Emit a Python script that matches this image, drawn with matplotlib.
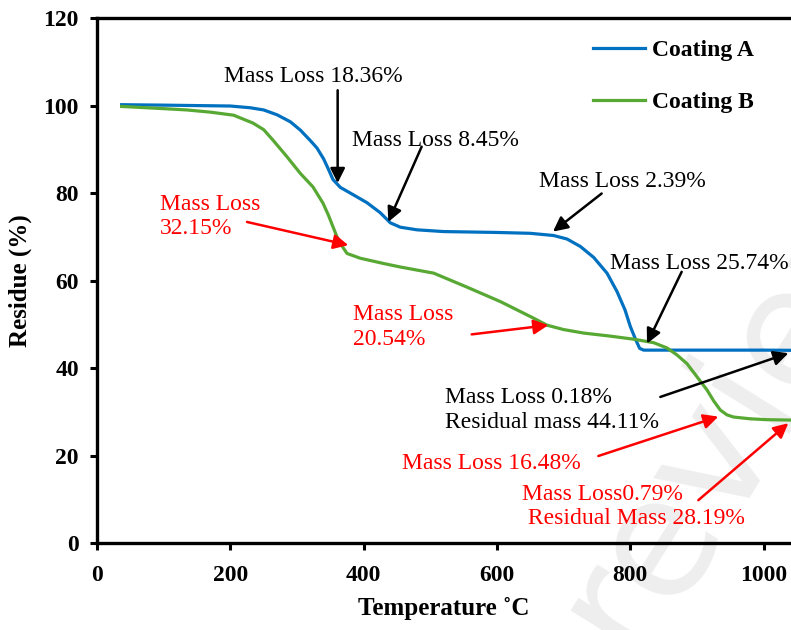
import matplotlib
matplotlib.use("Agg")
import matplotlib.pyplot as plt

plt.rcParams["font.family"] = ["Liberation Serif", "DejaVu Serif"]

# TGA curves (temperature in C, residue in %)
temp_a = [37, 100, 150, 200, 230, 250, 270, 290, 305, 320, 330, 340, 347, 354, 365,
          380, 405, 425, 440, 455, 480, 520, 600, 650, 685, 705, 725, 745, 765, 780,
          792, 800, 808, 814, 820, 900, 1000, 1045]
res_a = [100.2, 100.1, 100.0, 99.9, 99.5, 99.0, 97.9, 96.3, 94.4, 92.0, 90.3, 87.8, 85.5,
         83.1, 81.3, 80.0, 77.8, 75.5, 73.2, 72.2, 71.6, 71.2, 71.0, 70.8, 70.3, 69.5,
         67.8, 65.3, 61.7, 57.5, 53.3, 49.5, 46.5, 44.5, 44.1, 44.1, 44.1, 44.05]

temp_b = [37, 100, 135, 170, 205, 234, 250, 264, 285, 305, 324, 339, 347, 354, 360, 365,
          375, 395, 430, 455, 505, 555, 605, 655, 675, 700, 730, 770, 805, 835, 855, 870,
          885, 900, 915, 925, 935, 945, 955, 980, 1005, 1045]
res_b = [99.8, 99.3, 99.0, 98.5, 97.8, 96.0, 94.5, 92.1, 88.3, 84.5, 81.4, 77.7, 75.0,
         72.3, 70.0, 68.5, 66.2, 65.1, 63.9, 63.1, 61.7, 58.5, 55.2, 51.4, 49.8, 48.8,
         48.0, 47.3, 46.6, 45.8, 44.6, 43.0, 41.0, 38.0, 35.0, 32.5, 30.4, 29.3, 28.8,
         28.4, 28.2, 28.1]

x_ticks = [0, 200, 400, 600, 800, 1000]
y_ticks = [0, 20, 40, 60, 80, 100, 120]

# (label, text position, arrow tail, arrow tip, colour, horizontal alignment)
notes = [
    ("Mass Loss 18.36%", (324, 106.7), (361, 103.5), (361, 82.3), "black", "center"),
    ("Mass Loss 8.45%", (508, 92.1), (487, 90.6), (437, 73.4), "black", "center"),
    ("Mass Loss 2.39%", (788, 82.7), (757, 79.9), (684, 71.2), "black", "center"),
    ("Mass Loss 25.74%", (770, 64.0), (877, 62.0), (825, 45.6), "black", "left"),
    ("Mass Loss 0.18%\nResidual mass 44.11%", (522, 30.4), (845, 33.4), (1037, 43.4),
     "black", "left"),
    ("Mass Loss\n32.15%", (94.5, 74.6), (225, 73.4), (377, 68.1), "red", "left"),
    ("Mass Loss\n20.54%", (384, 49.4), (562, 47.7), (677, 49.8), "red", "left"),
    ("Mass Loss 16.48%", (457, 18.3), (752, 19.9), (932, 28.9), "red", "left"),
    ("Mass Loss0.79%\n Residual Mass 28.19%", (637, 8.3), (902, 9.8), (1037, 27.4),
     "red", "left"),
]

fig = plt.figure(figsize=(7.91, 6.30), dpi=100)
ax = fig.add_axes([0.1226, 0.138, 0.8774, 0.8333])

# faint watermark behind everything
ax.text(0.665, -0.075, "review", transform=fig.transFigure, fontsize=120,
        color="#eeeeee", rotation=58, family="DejaVu Sans", ha="left",
        va="bottom", zorder=0.5, clip_on=False)

ax.plot(temp_a, res_a, color="#0070C0", lw=2.3, label="Coating A")
ax.plot(temp_b, res_b, color="#58A834", lw=2.3, label="Coating B")

for label, pos, tail, tip, col, ha in notes:
    ax.text(pos[0], pos[1], label, color=col, fontsize=17, ha=ha, va="center",
            linespacing=1.2)
    ax.annotate("", xy=tip, xytext=tail,
                arrowprops=dict(arrowstyle="-|>", color=col, lw=1.8,
                                mutation_scale=22, shrinkA=0, shrinkB=0))

ax.set_xlim(0, 1041)
ax.set_ylim(0, 120)
ax.set_xticks(x_ticks)
ax.set_yticks(y_ticks)
ax.tick_params(direction="out", length=5, width=2.2, labelsize=17)
ax.tick_params(axis="x", pad=11)
ax.tick_params(axis="y", pad=8)
for lab in ax.get_xticklabels() + ax.get_yticklabels():
    lab.set_fontweight("bold")
for side in ["left", "bottom", "top"]:
    ax.spines[side].set_linewidth(2.4)
ax.spines["right"].set_visible(False)

ax.set_xlabel("Temperature ˚C", fontsize=18, fontweight="bold", labelpad=8)
ax.set_ylabel("Residue (%)", fontsize=18, fontweight="bold", labelpad=8)

ax.legend(loc="upper left", bbox_to_anchor=(0.684, 1.0), frameon=False,
          handlelength=2.2, handletextpad=0.3, labelspacing=1.3,
          prop={"size": 17, "weight": "bold"})

fig.savefig("out.png", dpi=100)
